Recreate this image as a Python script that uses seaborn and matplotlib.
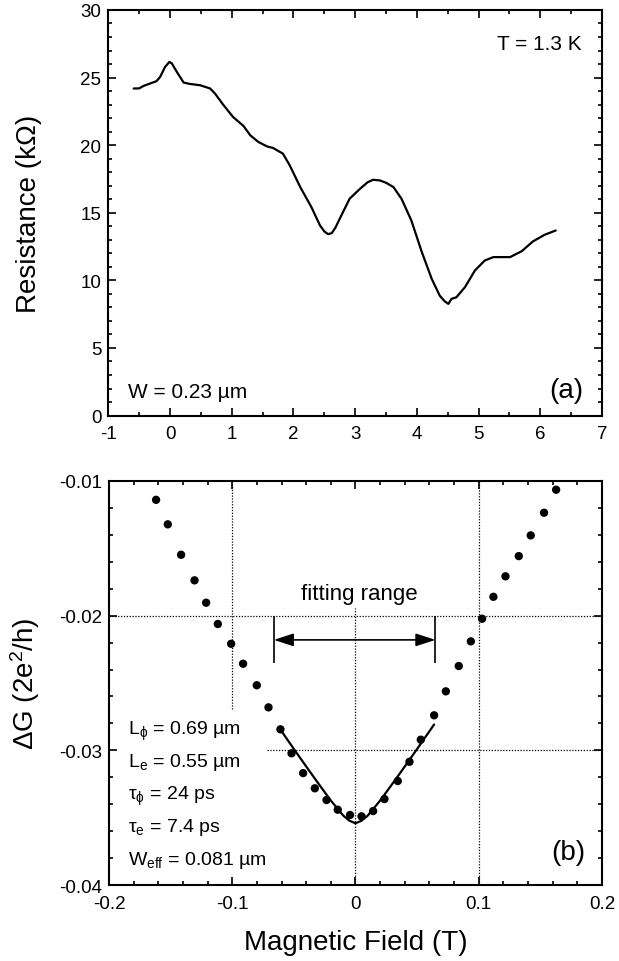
import matplotlib
matplotlib.use("Agg")
import matplotlib.pyplot as plt
import seaborn as sns
import pandas as pd
from matplotlib.ticker import MultipleLocator

# ---------------- data: panel (a) ----------------
field_a = [-0.59, -0.50, -0.43, -0.30, -0.22, -0.16, -0.08, -0.01, 0.03, 0.11, 0.22,
           0.32, 0.49, 0.65, 0.73, 0.86, 1.02, 1.19, 1.30, 1.43, 1.57, 1.67, 1.83,
           1.94, 2.11, 2.29, 2.43, 2.50, 2.56, 2.62, 2.68, 2.75, 2.91, 3.08, 3.20,
           3.29, 3.40, 3.50, 3.62, 3.75, 3.91, 4.08, 4.24, 4.37, 4.45, 4.51, 4.56,
           4.64, 4.78, 4.94, 5.10, 5.24, 5.51, 5.70, 5.88, 6.07, 6.25]
resistance = [24.19, 24.20, 24.38, 24.60, 24.73, 25.05, 25.79, 26.16, 26.04, 25.42, 24.63,
              24.53, 24.43, 24.19, 23.81, 23.00, 22.09, 21.42, 20.73, 20.24, 19.91, 19.79, 19.37,
              18.50, 16.90, 15.42, 14.06, 13.62, 13.42, 13.49, 13.90, 14.56, 16.04, 16.78, 17.25,
              17.44, 17.39, 17.22, 16.90, 16.04, 14.43, 12.09, 10.11, 8.87, 8.45, 8.26, 8.63,
              8.75, 9.50, 10.73, 11.47, 11.72, 11.72, 12.16, 12.88, 13.37, 13.69]

# ---------------- data: panel (b) ----------------
field_b = [-0.1618, -0.1523, -0.1415, -0.1306, -0.1212, -0.1117, -0.1009, -0.0912, -0.0801,
           -0.0706, -0.0609, -0.0519, -0.0425, -0.0330, -0.0235, -0.0144, -0.0044, 0.0049,
           0.0143, 0.0235, 0.0343, 0.0438, 0.0530, 0.0638, 0.0733, 0.0838, 0.0936, 0.1027,
           0.1119, 0.1217, 0.1325, 0.1422, 0.1530, 0.1628]
delta_g = [-0.01140, -0.01322, -0.01548, -0.01738, -0.01904, -0.02062, -0.02209, -0.02357,
           -0.02517, -0.02681, -0.02844, -0.03022, -0.03169, -0.03282, -0.03369, -0.03441,
           -0.03480, -0.03490, -0.03451, -0.03362, -0.03228, -0.03085, -0.02921, -0.02740,
           -0.02562, -0.02374, -0.02191, -0.02023, -0.01860, -0.01708, -0.01558, -0.01404,
           -0.01236, -0.01065]

fit_field = [-0.061, -0.050, -0.040, -0.030, -0.020, -0.010, -0.005, 0.000, 0.005, 0.010,
             0.020, 0.030, 0.040, 0.050, 0.0638]
fit_dg = [-0.02845, -0.02990, -0.03120, -0.03248, -0.03373, -0.03484, -0.03522, -0.03542,
          -0.03522, -0.03484, -0.03373, -0.03248, -0.03120, -0.02990, -0.02808]

fit_range = [-0.0663, 0.0649]
fit_bracket_y = [-0.0235, -0.0200]
fit_arrow_y = -0.0218

# tick labels
xticks_a = [-1, 0, 1, 2, 3, 4, 5, 6, 7]
xticklabels_a = ["-1", "0", "1", "2", "3", "4", "5", "6", "7"]
yticks_a = [0, 5, 10, 15, 20, 25, 30]
yticklabels_a = ["0", "5", "10", "15", "20", "25", "30"]
xticks_b = [-0.2, -0.1, 0.0, 0.1, 0.2]
xticklabels_b = ["-0.2", "-0.1", "0", "0.1", "0.2"]
yticks_b = [-0.04, -0.03, -0.02, -0.01]
yticklabels_b = ["-0.04", "-0.03", "-0.02", "-0.01"]

param_lines = [r"L$_{\mathrm{ϕ}}$ = 0.69 µm",
               r"L$_{\mathrm{e}}$ = 0.55 µm",
               r"τ$_{\mathrm{ϕ}}$ = 24 ps",
               r"τ$_{\mathrm{e}}$ = 7.4 ps",
               r"W$_{\mathrm{eff}}$ = 0.081 µm"]

# ---------------- style ----------------
sns.set_theme(style="ticks")
plt.rcParams["font.family"] = ["Liberation Sans", "DejaVu Sans"]
plt.rcParams["mathtext.fontset"] = "custom"
plt.rcParams["mathtext.rm"] = "Liberation Sans"
plt.rcParams["mathtext.it"] = "Liberation Sans:italic"
plt.rcParams["mathtext.bf"] = "Liberation Sans:bold"
plt.rcParams["mathtext.sf"] = "Liberation Sans"
for key in ["text.color", "axes.labelcolor", "xtick.color", "ytick.color",
            "axes.edgecolor", "xtick.labelcolor", "ytick.labelcolor"]:
    plt.rcParams[key] = "black"

fig = plt.figure(figsize=(6.19, 9.62), dpi=100)
ax1 = fig.add_axes([0.1750, 0.5670, 0.7976, 0.4216])
ax2 = fig.add_axes([0.1761, 0.0790, 0.7964, 0.4200])

def style_axes(ax):
    for sp in ax.spines.values():
        sp.set_linewidth(1.5)
        sp.set_color("black")
        sp.set_visible(True)
    ax.tick_params(which="both", direction="in", top=True, right=True,
                   colors="black", labelcolor="black", width=1.2, labelsize=13.5)
    ax.tick_params(which="major", length=6)
    ax.tick_params(which="minor", length=3)
    ax.tick_params(axis="y", pad=5)
    ax.tick_params(axis="x", pad=7)
    ax.set_facecolor("white")

# ---------------- panel (a) ----------------
df_a = pd.DataFrame({"B": field_a, "R": resistance})
sns.lineplot(data=df_a, x="B", y="R", sort=False, estimator=None,
             color="black", lw=1.6, ax=ax1)
ax1.set_xlim(-1, 7)
ax1.set_ylim(0, 30)
ax1.set_xticks(xticks_a, xticklabels_a)
ax1.set_yticks(yticks_a, yticklabels_a)
ax1.xaxis.set_minor_locator(MultipleLocator(0.5))
ax1.yaxis.set_minor_locator(MultipleLocator(1))
style_axes(ax1)
ax1.set_xlabel("")
ax1.set_ylabel("Resistance (kΩ)", fontsize=20, color="black")
ax1.yaxis.set_label_coords(-0.134, 0.5)
ax1.text(0.959, 0.904, "T = 1.3 K", transform=ax1.transAxes, ha="right",
         va="baseline", fontsize=15, color="black")
ax1.text(0.040, 0.0456, "W = 0.23 µm", transform=ax1.transAxes, ha="left",
         va="baseline", fontsize=15, color="black")
ax1.text(0.962, 0.0456, "(a)", transform=ax1.transAxes, ha="right",
         va="baseline", fontsize=20, color="black")

# ---------------- panel (b) ----------------
ax2.set_xlim(-0.2, 0.2)
ax2.set_ylim(-0.04, -0.01)
grid_kw = dict(color="black", lw=0.9, linestyle=(0, (1, 1.3)), zorder=1)
ylo, yhi = ax2.get_ylim()
xlo, xhi = ax2.get_xlim()
ax2.axvline(-0.1, ymin=(-0.0269 - ylo) / (yhi - ylo), ymax=1, **grid_kw)
ax2.axvline(0.0, ymin=0, ymax=(-0.0194 - ylo) / (yhi - ylo), **grid_kw)
ax2.axvline(0.1, **grid_kw)
ax2.axhline(-0.02, **grid_kw)
ax2.axhline(-0.03, xmin=(-0.072 - xlo) / (xhi - xlo), xmax=1, **grid_kw)

df_b = pd.DataFrame({"B": field_b, "dG": delta_g})
sns.scatterplot(data=df_b, x="B", y="dG", s=36, color="black",
                edgecolor="none", zorder=3, ax=ax2)
df_fit = pd.DataFrame({"B": fit_field, "dG": fit_dg})
sns.lineplot(data=df_fit, x="B", y="dG", sort=False, estimator=None,
             color="black", lw=1.6, zorder=2, ax=ax2)

ax2.vlines(fit_range, fit_bracket_y[0], fit_bracket_y[1], color="black", lw=1.2, zorder=2)
ax2.annotate("", xy=(fit_range[0], fit_arrow_y), xytext=(fit_range[1], fit_arrow_y),
             arrowprops=dict(arrowstyle="<|-|>,head_length=0.4,head_width=0.13",
                             mutation_scale=30, lw=1.2, color="black",
                             shrinkA=0, shrinkB=0))
ax2.text(0.003, -0.01877, "fitting range", ha="center", va="baseline",
         fontsize=16, color="black")

ax2.set_xticks(xticks_b, xticklabels_b)
ax2.set_yticks(yticks_b, yticklabels_b)
ax2.xaxis.set_minor_locator(MultipleLocator(0.02))
ax2.yaxis.set_minor_locator(MultipleLocator(0.002))
style_axes(ax2)
ax2.set_xlabel("Magnetic Field (T)", fontsize=20, color="black")
ax2.xaxis.set_label_coords(0.5, -0.109)
ax2.set_ylabel("ΔG (2e$^{2}$/h)", fontsize=20, color="black")
ax2.yaxis.set_label_coords(-0.136, 0.5)

for i, line in enumerate(param_lines):
    ax2.text(0.039, 0.374 - i * 0.0805, line, transform=ax2.transAxes,
             ha="left", va="baseline", fontsize=14, color="black")
ax2.text(0.9655, 0.064, "(b)", transform=ax2.transAxes, ha="right",
         va="baseline", fontsize=20, color="black")

fig.savefig("out.png", dpi=100, facecolor="white")
